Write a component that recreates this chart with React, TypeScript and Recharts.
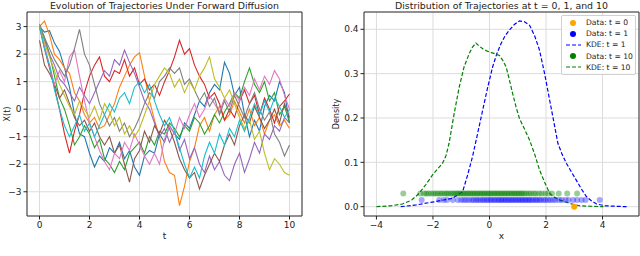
import {
  CartesianGrid,
  ComposedChart,
  Line,
  LineChart,
  ReferenceArea,
  Scatter,
  XAxis,
  YAxis,
} from "recharts";

const FONT = "'DejaVu Sans', sans-serif";
const TAB10 = ['#1f77b4', '#ff7f0e', '#2ca02c', '#d62728', '#9467bd', '#8c564b', '#e377c2', '#7f7f7f', '#bcbd22', '#17becf'];

// time grid of the trajectories
const T = [
  0, 0.2, 0.4, 0.6, 0.8, 1, 1.2, 1.4, 1.6, 1.8, 2, 2.2, 2.4, 2.6, 2.8, 3, 3.2, 3.4, 3.6, 3.8,
  4, 4.2, 4.4, 4.6, 4.8, 5, 5.2, 5.4, 5.6, 5.8, 6, 6.2, 6.4, 6.6, 6.8, 7, 7.2, 7.4, 7.6, 7.8,
  8, 8.2, 8.4, 8.6, 8.8, 9, 9.2, 9.4, 9.6, 9.8, 10,
];

const trajBlue = [3.0, 2.8, 2.85, 2.4, 2.1, 1.5, 0.8, -0.2, -0.9, -1.0, -1.6, -2.1, -1.7, -1.9, -1.4, -1.6, -1.2, -1.8, -1.5, -2.1, -2.4, -1.7, -1.5, -1.6, -0.9, -1.2, -0.6, -0.9, -1.1, -0.5, -0.7, -0.2, 0.3, 0.1, 0.6, 0.9, 0.7, 1.7, 1.3, 0.5, 0.8, -0.2, -1.0, -0.4, -0.8, 0.1, 0.5, 0.3, 1.0, 0.6, -0.5];
const trajOrange = [3.0, 3.2, 2.7, 2.0, 1.8, 1.5, 1.3, 0.6, 0.3, -0.2, -0.5, -0.3, -0.7, -0.6, -0.2, 0.2, 0.8, 1.2, 1.6, 1.9, 2.05, 1.2, 0.3, -0.4, -1.0, -1.9, -2.3, -2.4, -3.5, -2.8, -1.9, -1.4, -0.6, -0.3, -0.8, -0.2, 0.1, -0.4, -0.2, 0.3, -0.1, -0.5, 0.0, -0.6, -0.3, -0.9, -0.4, -0.2, -0.6, -0.4, -0.7];
const trajGreen = [3.0, 2.6, 2.0, 1.2, 0.4, 0.0, -0.6, -1.3, -1.0, -0.6, -0.9, -1.4, -1.1, -1.8, -2.0, -2.3, -1.9, -2.2, -1.6, -1.4, -1.2, -1.6, -1.0, -1.3, -0.8, -0.9, -0.5, -0.7, -1.0, -0.6, -0.8, -0.3, -0.5, -0.9, -0.6, -0.2, -0.5, -0.1, 0.2, 0.6, 0.4, 1.0, 1.5, 0.9, 0.6, 1.0, 0.3, 0.6, -0.2, 0.1, -0.5];
const trajRed = [3.0, 2.2, 1.5, 0.8, 0.0, -0.9, -1.6, -0.8, -0.2, 0.6, 1.2, 1.6, 1.9, 1.2, 1.0, 1.4, 1.3, 1.8, 1.2, 1.5, 0.9, 1.1, 0.7, 0.9, 0.5, 1.0, 1.4, 1.9, 2.5, 2.0, 2.2, 1.6, 1.2, 0.9, 0.4, 0.6, 0.2, -0.4, 0.0, -0.3, 0.3, 0.7, 0.2, 0.5, -0.2, 0.4, 0.0, -0.5, 0.1, 0.3, 0.55];
const trajPurple = [3.0, 2.5, 2.0, 1.6, 1.1, 0.9, 0.6, 0.3, 0.8, 0.5, 0.2, 0.6, 1.0, 1.4, 1.2, 1.8, 1.6, 2.15, 1.7, 1.3, 0.8, 0.3, 0.0, -0.5, -1.0, -0.7, -1.2, -0.8, -1.5, -1.1, -1.8, -1.4, -2.0, -2.3, -1.7, -2.2, -1.9, -2.4, -2.6, -2.0, -1.6, -2.3, -1.8, -1.2, -1.6, -0.9, -1.1, -0.6, -0.8, -0.3, -0.5];
const trajBrown = [2.5, 1.6, 1.3, 0.9, 0.4, 0.7, 0.2, -0.3, -0.6, -0.4, -0.8, -0.5, -1.0, -1.3, -1.0, -1.6, -1.3, -2.0, -2.65, -1.8, -1.5, -0.8, -1.2, -0.6, -0.9, -0.4, -0.7, -1.2, -1.8, -2.2, -2.5, -2.3, -2.9, -2.4, -2.0, -1.6, -1.9, -1.3, -0.9, -1.3, -0.6, -0.2, -0.5, 0.1, -0.3, -0.7, -0.4, 0.0, -0.5, 0.2, -0.3];
const trajPink = [3.0, 2.3, 1.6, 0.9, 1.4, 1.0, 1.9, 2.15, 1.2, 0.3, -0.5, -1.0, -1.5, -1.9, -2.2, -1.6, -1.8, -1.2, -1.5, -0.9, -1.3, -1.7, -2.0, -1.6, -2.0, -1.1, -0.6, -0.9, -0.3, -0.7, -0.2, 0.2, -0.3, 0.0, 0.5, 0.2, -0.1, 0.4, 0.1, 0.6, 0.3, 0.8, 0.5, 1.1, 0.7, 1.2, 0.9, 1.4, 1.1, 0.5, 0.0];
const trajGray = [3.1, 2.6, 2.2, 1.8, 1.5, 1.2, 1.6, 2.2, 2.9, 2.0, 1.6, 0.9, 0.2, -0.2, -0.6, -0.3, -0.8, -0.5, -1.0, -0.7, -0.3, 0.2, 0.6, 0.4, 1.0, 1.2, 1.5, 1.3, 1.5, 0.9, 1.1, 0.7, 0.3, 0.6, 0.1, 0.4, -0.2, 0.3, -0.1, 0.5, 0.1, -0.3, 0.2, 0.6, 0.0, -0.4, -0.1, -0.9, -1.2, -1.7, -1.3];
const trajOlive = [3.0, 2.4, 1.9, 1.4, 0.9, 0.5, 0.1, -0.2, 0.3, 0.0, -0.3, 0.1, -0.4, 0.2, -0.1, -0.6, -0.3, -0.9, -0.6, -1.0, -0.7, -0.2, 0.3, 0.9, 1.2, 1.5, 1.3, 0.8, 1.1, 0.6, 1.0, 0.7, 1.2, 1.5, 1.9, 1.1, 0.8, 0.4, 0.7, 0.2, -0.3, -0.7, -0.4, -1.1, -0.8, -1.6, -2.2, -1.8, -2.0, -2.3, -2.4];
const trajCyan = [3.0, 2.2, 1.6, 0.7, 0.0, -0.6, -1.0, -0.6, -0.2, -0.8, -0.5, -1.0, -0.6, -0.2, 0.2, -0.1, 0.4, 0.6, 0.2, 0.8, 1.0, 0.6, 0.9, 0.3, -0.2, -0.6, -0.3, -0.8, -1.4, -2.0, -2.5, -2.1, -2.5, -1.7, -1.2, -1.6, -0.9, -1.3, -0.7, -1.0, -0.4, -0.8, -0.3, 0.2, -0.2, 0.3, -0.1, 0.4, 0.1, -0.3, 0.0];

const TRAJECTORIES = [trajBlue, trajOrange, trajGreen, trajRed, trajPurple, trajBrown, trajPink, trajGray, trajOlive, trajCyan];

// KDE curves (right panel)
const kde1X = [-3.14, -2.6, -1.96, -1.31, -0.95, -0.78, -0.6, -0.42, -0.24, -0.06, 0.11, 0.26, 0.41, 0.55, 0.7, 0.88, 1.06, 1.24, 1.42, 1.6, 1.77, 1.95, 2.13, 2.28, 2.42, 2.57, 2.72, 2.9, 3.07, 3.25, 3.43, 3.61, 3.79, 4.1, 4.45, 4.85];
const kde1Y = [0.0, 0.004, 0.011, 0.019, 0.034, 0.07, 0.113, 0.165, 0.218, 0.27, 0.315, 0.345, 0.368, 0.385, 0.398, 0.411, 0.419, 0.417, 0.409, 0.385, 0.353, 0.3, 0.24, 0.19, 0.143, 0.118, 0.098, 0.078, 0.06, 0.04, 0.023, 0.013, 0.006, 0.002, 0.001, 0.0];
const kde10X = [-4.0, -3.5, -3.08, -2.75, -2.49, -2.25, -2.02, -1.84, -1.66, -1.54, -1.43, -1.25, -1.07, -0.9, -0.72, -0.6, -0.48, -0.36, -0.24, -0.12, 0.0, 0.18, 0.35, 0.47, 0.59, 0.7, 0.82, 0.94, 1.06, 1.24, 1.42, 1.6, 1.77, 1.95, 2.13, 2.31, 2.49, 2.85, 3.2, 3.6, 4.03];
const kde10Y = [0.0, 0.002, 0.006, 0.015, 0.03, 0.05, 0.071, 0.085, 0.098, 0.115, 0.143, 0.21, 0.27, 0.315, 0.345, 0.36, 0.369, 0.362, 0.356, 0.352, 0.349, 0.345, 0.341, 0.33, 0.315, 0.287, 0.255, 0.225, 0.199, 0.175, 0.15, 0.118, 0.083, 0.055, 0.03, 0.021, 0.015, 0.007, 0.002, 0.001, 0.0];

// sample positions, drawn at a fixed height per time
const dataT0X = [3.0];
const dataT0Y = 0;
const dataT1X = [-2.4, -1.78, -1.62, -1.5, -1.3, -1.12, -1.0, -0.91, -0.82, -0.73, -0.63, -0.56, -0.47, -0.41, -0.33, -0.25, -0.19, -0.11, -0.05, 0.03, 0.08, 0.16, 0.21, 0.29, 0.34, 0.41, 0.46, 0.53, 0.58, 0.65, 0.7, 0.77, 0.82, 0.89, 0.94, 1.01, 1.06, 1.13, 1.18, 1.25, 1.3, 1.37, 1.42, 1.49, 1.55, 1.63, 1.68, 1.76, 1.82, 1.91, 1.98, 2.07, 2.15, 2.25, 2.34, 2.46, 2.56, 2.69, 2.8, 2.96, 3.1, 3.26, 3.4, 3.9];
const dataT1Y = 0.015;
const dataT10X = [-3.05, -2.45, -2.32, -2.24, -2.16, -2.07, -1.98, -1.9, -1.83, -1.74, -1.68, -1.59, -1.52, -1.46, -1.37, -1.31, -1.24, -1.17, -1.12, -1.05, -1.0, -0.93, -0.88, -0.81, -0.76, -0.69, -0.64, -0.57, -0.52, -0.45, -0.4, -0.33, -0.28, -0.21, -0.16, -0.09, -0.04, 0.03, 0.08, 0.15, 0.2, 0.27, 0.32, 0.39, 0.44, 0.51, 0.56, 0.63, 0.68, 0.75, 0.8, 0.87, 0.92, 0.99, 1.04, 1.11, 1.16, 1.23, 1.3, 1.39, 1.46, 1.56, 1.64, 1.75, 1.85, 1.97, 2.08, 2.21, 2.45, 2.75, 3.1];
const dataT10Y = 0.03;

const trajData = T.map((t, i) => {
  const row: any = { t };
  TRAJECTORIES.forEach((s, k) => {
    row['s' + k] = s[i];
  });
  return row;
});

const kde1 = kde1X.map((x, i) => ({ x, y: kde1Y[i] }));
const kde10 = kde10X.map((x, i) => ({ x, y: kde10Y[i] }));
const pts0 = dataT0X.map((x) => ({ x, y: dataT0Y }));
const pts1 = dataT1X.map((x) => ({ x, y: dataT1Y }));
const pts10 = dataT10X.map((x) => ({ x, y: dataT10Y }));

const minus = (v: number) => (v < 0 ? '\u2212' + Math.abs(v) : String(v));

const tickStyle = { fontSize: 9, fill: '#222', fontFamily: FONT };
const tickLine = { stroke: '#222' };
const labelStyle = { fontSize: 9, fill: '#222', fontFamily: FONT };
const titleStyle: any = {
  position: 'absolute',
  top: 0,
  fontSize: 9.4,
  lineHeight: '11px',
  fontFamily: FONT,
  color: '#222',
  textAlign: 'center',
  whiteSpace: 'nowrap',
};

const dot = (color: string, alpha: number) => (p: any) =>
  <circle cx={p.cx} cy={p.cy} r={3} fill={color} fillOpacity={alpha} />;

function TrajectoryPanel() {
  return (
    <LineChart width={320} height={256} data={trajData} margin={{ top: 12, right: 18, bottom: 10, left: 0 }}>
      <CartesianGrid stroke="#dcdcdc" />
      <XAxis
        dataKey="t"
        type="number"
        domain={[-0.5, 10.5]}
        ticks={[0, 2, 4, 6, 8, 10]}
        allowDataOverflow
        axisLine={false}
        tickLine={tickLine}
        tickSize={3.5}
        tick={tickStyle}
        height={30}
        label={{ value: 't', position: 'insideBottom', offset: 7, style: labelStyle }}
      />
      <YAxis
        type="number"
        domain={[-3.88, 3.53]}
        ticks={[-3, -2, -1, 0, 1, 2, 3]}
        allowDataOverflow
        axisLine={false}
        tickLine={tickLine}
        tickSize={3.5}
        tick={tickStyle}
        tickFormatter={minus}
        width={27}
        label={{ value: 'X(t)', angle: -90, position: 'insideLeft', offset: 7, style: { ...labelStyle, fontSize: 8, textAnchor: 'middle' } }}
      />
      {TRAJECTORIES.map((_, k) => (
        <Line
          key={k}
          dataKey={'s' + k}
          stroke={TAB10[k % TAB10.length]}
          strokeWidth={1.1}
          dot={false}
          isAnimationActive={false}
        />
      ))}
      <ReferenceArea x1={-0.5} x2={10.5} y1={-3.88} y2={3.53} fill="none" stroke="#333" strokeWidth={1} />
    </LineChart>
  );
}

function DistributionPanel() {
  return (
    <ComposedChart width={320} height={256} margin={{ top: 12, right: 1, bottom: 10, left: 0 }}>
      <CartesianGrid stroke="#dcdcdc" />
      <XAxis
        dataKey="x"
        type="number"
        domain={[-4.44, 5.29]}
        ticks={[-4, -2, 0, 2, 4]}
        allowDataOverflow
        axisLine={false}
        tickLine={tickLine}
        tickSize={3.5}
        tick={tickStyle}
        tickFormatter={minus}
        height={30}
        label={{ value: 'x', position: 'insideBottom', offset: 7, style: labelStyle }}
      />
      <YAxis
        dataKey="y"
        type="number"
        domain={[-0.021, 0.439]}
        ticks={[0, 0.1, 0.2, 0.3, 0.4]}
        allowDataOverflow
        axisLine={false}
        tickLine={tickLine}
        tickSize={3.5}
        tick={tickStyle}
        tickFormatter={(v: number) => v.toFixed(1)}
        width={44}
        label={{ value: 'Density', angle: -90, position: 'insideLeft', offset: 16, style: { ...labelStyle, fontSize: 8, textAnchor: 'middle' } }}
      />
      <Scatter data={pts0} dataKey="y" fill="#ffa500" shape={dot('#ffa500', 1)} isAnimationActive={false} />
      <Scatter data={pts1} dataKey="y" fill="#0000ff" shape={dot('#0000ff', 0.35)} isAnimationActive={false} />
      <Line data={kde1} dataKey="y" stroke="#0000ff" strokeWidth={1.2} strokeDasharray="4 2" dot={false} isAnimationActive={false} />
      <Scatter data={pts10} dataKey="y" fill="#008000" shape={dot('#008000', 0.4)} isAnimationActive={false} />
      <Line data={kde10} dataKey="y" stroke="#008000" strokeWidth={1.2} strokeDasharray="4 2" dot={false} isAnimationActive={false} />
      <ReferenceArea x1={-4.44} x2={5.29} y1={-0.021} y2={0.439} fill="none" stroke="#333" strokeWidth={1} />
    </ComposedChart>
  );
}

const legendItems = [
  { label: 'Data: t = 0', color: '#ffa500', kind: 'dot' },
  { label: 'Data: t = 1', color: '#0000ff', kind: 'dot' },
  { label: 'KDE: t = 1', color: '#0000ff', kind: 'dash' },
  { label: 'Data: t = 10', color: '#008000', kind: 'dot' },
  { label: 'KDE: t = 10', color: '#008000', kind: 'dash' },
];

function LegendBox() {
  return (
    <div
      style={{
        position: 'absolute',
        left: 561,
        top: 15,
        width: 75,
        height: 60,
        boxSizing: 'border-box',
        border: '1px solid #d0d0d0',
        borderRadius: 2,
        background: 'rgba(255,255,255,0.8)',
        fontFamily: FONT,
        fontSize: 7.6,
        color: '#222',
        paddingTop: 1,
        whiteSpace: 'nowrap',
      }}
    >
      {legendItems.map((it) => (
        <div key={it.label} style={{ display: 'flex', alignItems: 'center', height: 11.2 }}>
          <svg width={20} height={10} style={{ marginLeft: 2, flexShrink: 0 }}>
            {it.kind === 'dot' ? (
              <circle cx={9} cy={5} r={3} fill={it.color} />
            ) : (
              <line x1={2} x2={17} y1={5} y2={5} stroke={it.color} strokeWidth={1.2} strokeDasharray="4 2" />
            )}
          </svg>
          <span style={{ marginLeft: 2 }}>{it.label}</span>
        </div>
      ))}
    </div>
  );
}

export default function App() {
  return (
    <div style={{ position: 'fixed', left: 0, top: 0, width: 640, height: 256, background: '#fff', overflow: 'hidden' }}>
      <div style={{ position: 'absolute', left: 0, top: 0 }}>
        <TrajectoryPanel />
      </div>
      <div style={{ position: 'absolute', left: 320, top: 0 }}>
        <DistributionPanel />
      </div>
      <div style={{ ...titleStyle, left: 27, width: 275 }}>Evolution of Trajectories Under Forward Diffusion</div>
      <div style={{ ...titleStyle, left: 364, width: 275 }}>Distribution of Trajectories at t = 0, 1, and 10</div>
      <LegendBox />
    </div>
  );
}
